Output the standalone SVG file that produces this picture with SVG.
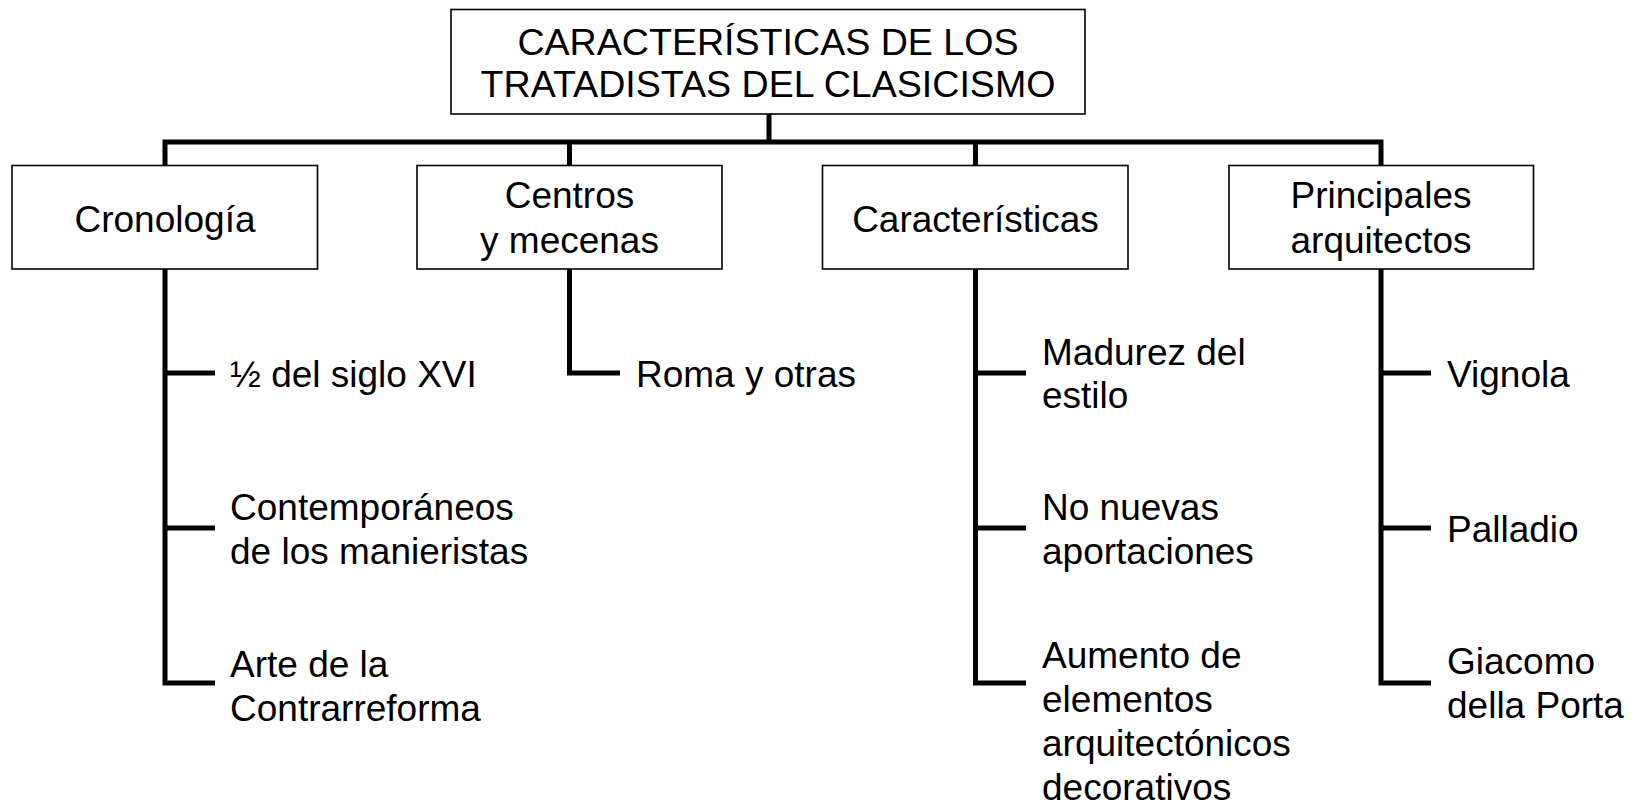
<svg xmlns="http://www.w3.org/2000/svg" width="1636" height="808" viewBox="0 0 1636 808">
<style>
  .box { fill: #ffffff; stroke: #000000; stroke-width: 1.6; }
  .t { font-family: "Liberation Sans", Arial, sans-serif; font-size: 37px; fill: #000000; }
  .big { font-size: 37.6px; }
  .c { text-anchor: middle; }
  .conn { fill: none; stroke: #000000; stroke-width: 5; stroke-linecap: butt; stroke-linejoin: miter; }
</style>
<rect width="1636" height="808" fill="#ffffff"/>
<g id="connectors">
  <path class="conn" d="M769 114 V142 M162.5 142 H1383.5 M165 142 V165.5 M569.5 142 V165.5 M975.5 142 V165.5 M1381 142 V165.5"/>
  <path class="conn" d="M165 269 V685.5 M162.5 683 H215 M165 373 H215 M165 528 H215"/>
  <path class="conn" d="M569.5 269 V373 H620"/>
  <path class="conn" d="M975.5 269 V685.5 M973 683 H1026 M975.5 373 H1026 M975.5 528 H1026"/>
  <path class="conn" d="M1381 269 V685.5 M1378.5 683 H1431 M1381 373 H1431 M1381 528 H1431"/>
</g>
<g id="title">
  <rect class="box" x="451" y="9.5" width="634" height="104.5"/>
  <text class="t big c" x="768" y="55">CARACTERÍSTICAS DE LOS</text>
  <text class="t big c" x="768" y="97">TRATADISTAS DEL CLASICISMO</text>
</g>
<g id="cronologia">
  <rect class="box" x="12" y="165.5" width="305.5" height="103.5"/>
  <text class="t c" x="165" y="232">Cronología</text>
</g>
<g id="centros">
  <rect class="box" x="417" y="165.5" width="305" height="103.5"/>
  <text class="t c" x="569.5" y="208">Centros</text>
  <text class="t c" x="569.5" y="253">y mecenas</text>
</g>
<g id="caracteristicas">
  <rect class="box" x="822.5" y="165.5" width="305.5" height="103.5"/>
  <text class="t c" x="975.5" y="232">Características</text>
</g>
<g id="principales">
  <rect class="box" x="1229" y="165.5" width="304.5" height="103.5"/>
  <text class="t c" x="1381" y="208">Principales</text>
  <text class="t c" x="1381" y="253">arquitectos</text>
</g>
<g id="siglo">
  <text class="t" x="230" y="387">½ del siglo XVI</text>
</g>
<g id="contemporaneos">
  <text class="t" x="230" y="520">Contemporáneos</text>
  <text class="t" x="230" y="564">de los manieristas</text>
</g>
<g id="arte">
  <text class="t" x="230" y="677">Arte de la</text>
  <text class="t" x="230" y="721">Contrarreforma</text>
</g>
<g id="roma">
  <text class="t" x="636" y="387">Roma y otras</text>
</g>
<g id="madurez">
  <text class="t" x="1042" y="365">Madurez del</text>
  <text class="t" x="1042" y="408">estilo</text>
</g>
<g id="nonuevas">
  <text class="t" x="1042" y="520">No nuevas</text>
  <text class="t" x="1042" y="564">aportaciones</text>
</g>
<g id="aumento">
  <text class="t" x="1042" y="668">Aumento de</text>
  <text class="t" x="1042" y="712">elementos</text>
  <text class="t" x="1042" y="756">arquitectónicos</text>
  <text class="t" x="1042" y="800">decorativos</text>
</g>
<g id="vignola">
  <text class="t" x="1447" y="387">Vignola</text>
</g>
<g id="palladio">
  <text class="t" x="1447" y="542">Palladio</text>
</g>
<g id="giacomo">
  <text class="t" x="1447" y="674">Giacomo</text>
  <text class="t" x="1447" y="718">della Porta</text>
</g>
</svg>
